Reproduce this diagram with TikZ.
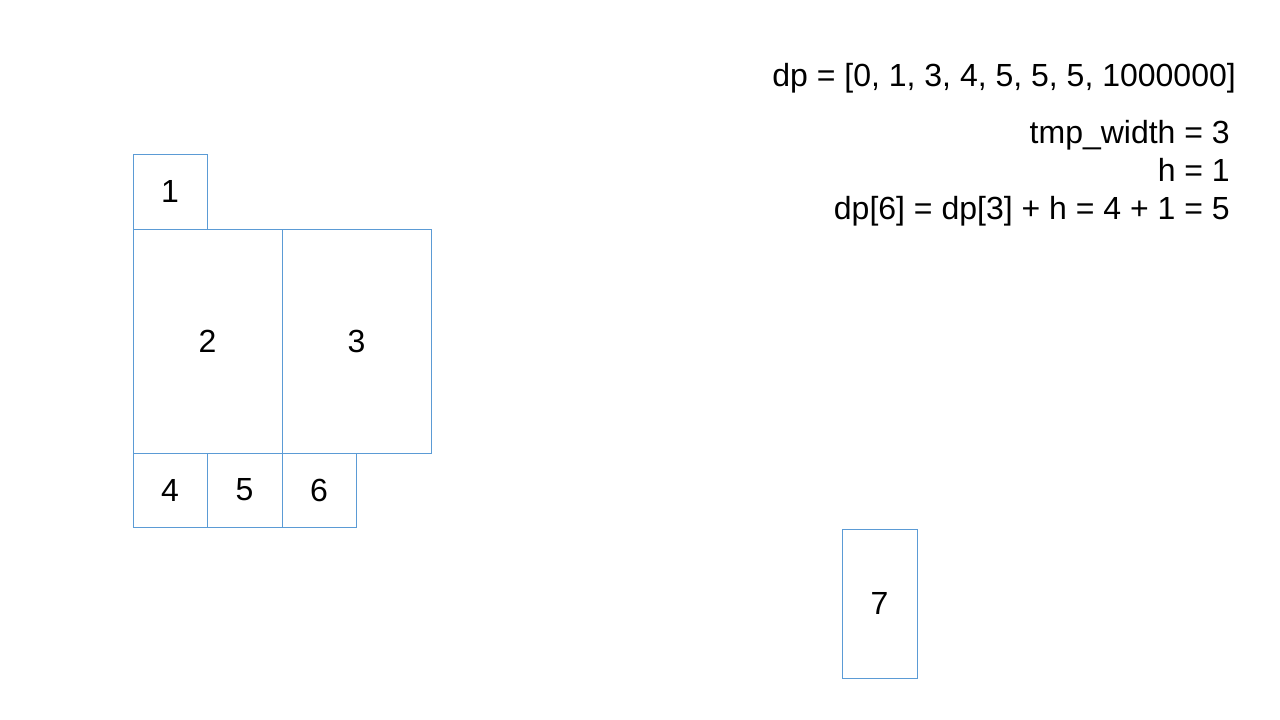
\documentclass[tikz,border=0pt]{standalone}
\usepackage{fontspec}
\setmainfont{Liberation Sans}
\definecolor{boxblue}{HTML}{5B9BD5}
\begin{document}
\begin{tikzpicture}[x=1pt,y=-1pt,
  blk/.style={draw=boxblue,line width=1pt},
  lbl/.style={font=\fontsize{32}{38}\selectfont,inner sep=0pt},
  txt/.style={font=\fontsize{32}{38}\selectfont,inner sep=0pt,anchor=base east}]
\useasboundingbox (0,0) rectangle (1280,720);
\draw[blk] (133,154) rectangle (207,229);
\draw[blk] (133,229) rectangle (282,453);
\draw[blk] (282,229) rectangle (431,453);
\draw[blk] (133,453) rectangle (207,527);
\draw[blk] (207,453) rectangle (282,527);
\draw[blk] (282,453) rectangle (356,527);
\draw[blk] (842,529) rectangle (917,678);
\node[lbl] (n1) at (170,191.5) {1};
\node[lbl] (n2) at (207.5,341) {2};
\node[lbl] (n3) at (356.5,341) {3};
\node[lbl] (n4) at (170,490) {4};
\node[lbl] (n5) at (244.5,490) {5};
\node[lbl] (n6) at (319,490) {6};
\node[lbl] (n7) at (879.5,603.5) {7};
\node[txt] (t1) at (1236,86) {dp = [0, 1, 3, 4, 5, 5, 5, 1000000]};
\node[txt] (t2) at (1230,143) {tmp\_width = 3};
\node[txt] (t3) at (1230,181) {h = 1};
\node[txt] (t4) at (1230,219) {dp[6] = dp[3] + h = 4 + 1 = 5};
\end{tikzpicture}
\end{document}
